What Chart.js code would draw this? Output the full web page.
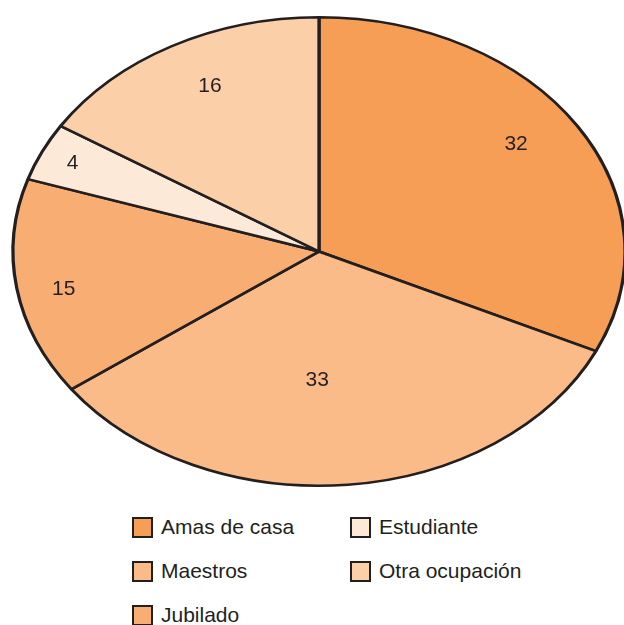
<!DOCTYPE html>
<html>
<head>
<meta charset="utf-8">
<script src="https://cdn.jsdelivr.net/npm/chart.js@4/dist/chart.umd.min.js"></script>
<style>
  html, body { margin: 0; padding: 0; background: #fff; }
  body { width: 624px; height: 625px; position: relative; overflow: hidden; font-family: "Liberation Sans", Arial, sans-serif; color: #231F20; }
  #pie { position: absolute; left: 0; top: 0; }
  .legend { position: absolute; left: 132px; top: 516px; display: grid; grid-template-columns: 218px 200px; row-gap: 22px; }
  .legend-item { display: flex; align-items: center; height: 22px; font-size: 21px; white-space: nowrap; }
  .swatch { width: 17px; height: 17px; border: 2.5px solid #231F20; margin-right: 8px; flex: none; }
</style>
</head>
<body>
<canvas id="pie" width="624" height="500"></canvas>
<div class="legend" id="legend"></div>
<script>
(() => {
  // pie order, clockwise from 12 o'clock
  const labels = ["Amas de casa", "Maestros", "Jubilado", "Estudiante", "Otra ocupación"];
  const values = [32, 33, 15, 4, 16];
  const colors = ["#F79E56", "#FABB89", "#F8AD72", "#FDE9D8", "#FBCFA8"];

  // legend order as printed under the chart
  const legendOrder = ["Amas de casa", "Estudiante", "Maestros", "Otra ocupación", "Jubilado"];

  // label placement (fraction of radius, angle nudge in degrees)
  const labelRadius = [0.79, 0.55, 0.85, 0.89, 0.79];
  const labelNudge = [-3, 6, -2, 0, 2];

  const STRETCH = 307 / 235; // the original pie is an ellipse
  const INK = "#231F20";

  const ellipse = {
    id: "ellipse",
    beforeDatasetsDraw(chart) {
      const arc = chart.getDatasetMeta(0).data[0];
      const ctx = chart.ctx;
      ctx.save();
      ctx.translate(arc.x, 0);
      ctx.scale(STRETCH, 1);
      ctx.translate(-arc.x, 0);
    },
    afterDatasetsDraw(chart) {
      chart.ctx.restore();
    },
    afterDraw(chart) {
      const ctx = chart.ctx;
      const meta = chart.getDatasetMeta(0);
      ctx.save();
      ctx.fillStyle = INK;
      ctx.font = '21px "Liberation Sans", Arial, sans-serif';
      ctx.textAlign = "center";
      ctx.textBaseline = "middle";
      meta.data.forEach((arc, i) => {
        const mid = (arc.startAngle + arc.endAngle) / 2 + (labelNudge[i] * Math.PI) / 180;
        const r = arc.outerRadius * labelRadius[i];
        const x = arc.x + Math.cos(mid) * r * STRETCH;
        const y = arc.y + Math.sin(mid) * r;
        ctx.fillText(String(values[i]), x, y);
      });
      ctx.restore();
    },
  };

  new Chart(document.getElementById("pie"), {
    type: "pie",
    data: {
      labels,
      datasets: [{
        data: values,
        backgroundColor: colors,
        borderColor: INK,
        borderWidth: 2.5,
      }],
    },
    options: {
      responsive: false,
      animation: false,
      layout: { padding: { left: 14, right: 0, top: 16, bottom: 13 } },
      plugins: { legend: { display: false }, tooltip: { enabled: false } },
    },
    plugins: [ellipse],
  });

  const legend = document.getElementById("legend");
  legend.innerHTML = legendOrder.map((name) => {
    const c = colors[labels.indexOf(name)];
    return `<div class="legend-item"><span class="swatch" style="background:${c}"></span>${name}</div>`;
  }).join("");
})();
</script>
</body>
</html>
